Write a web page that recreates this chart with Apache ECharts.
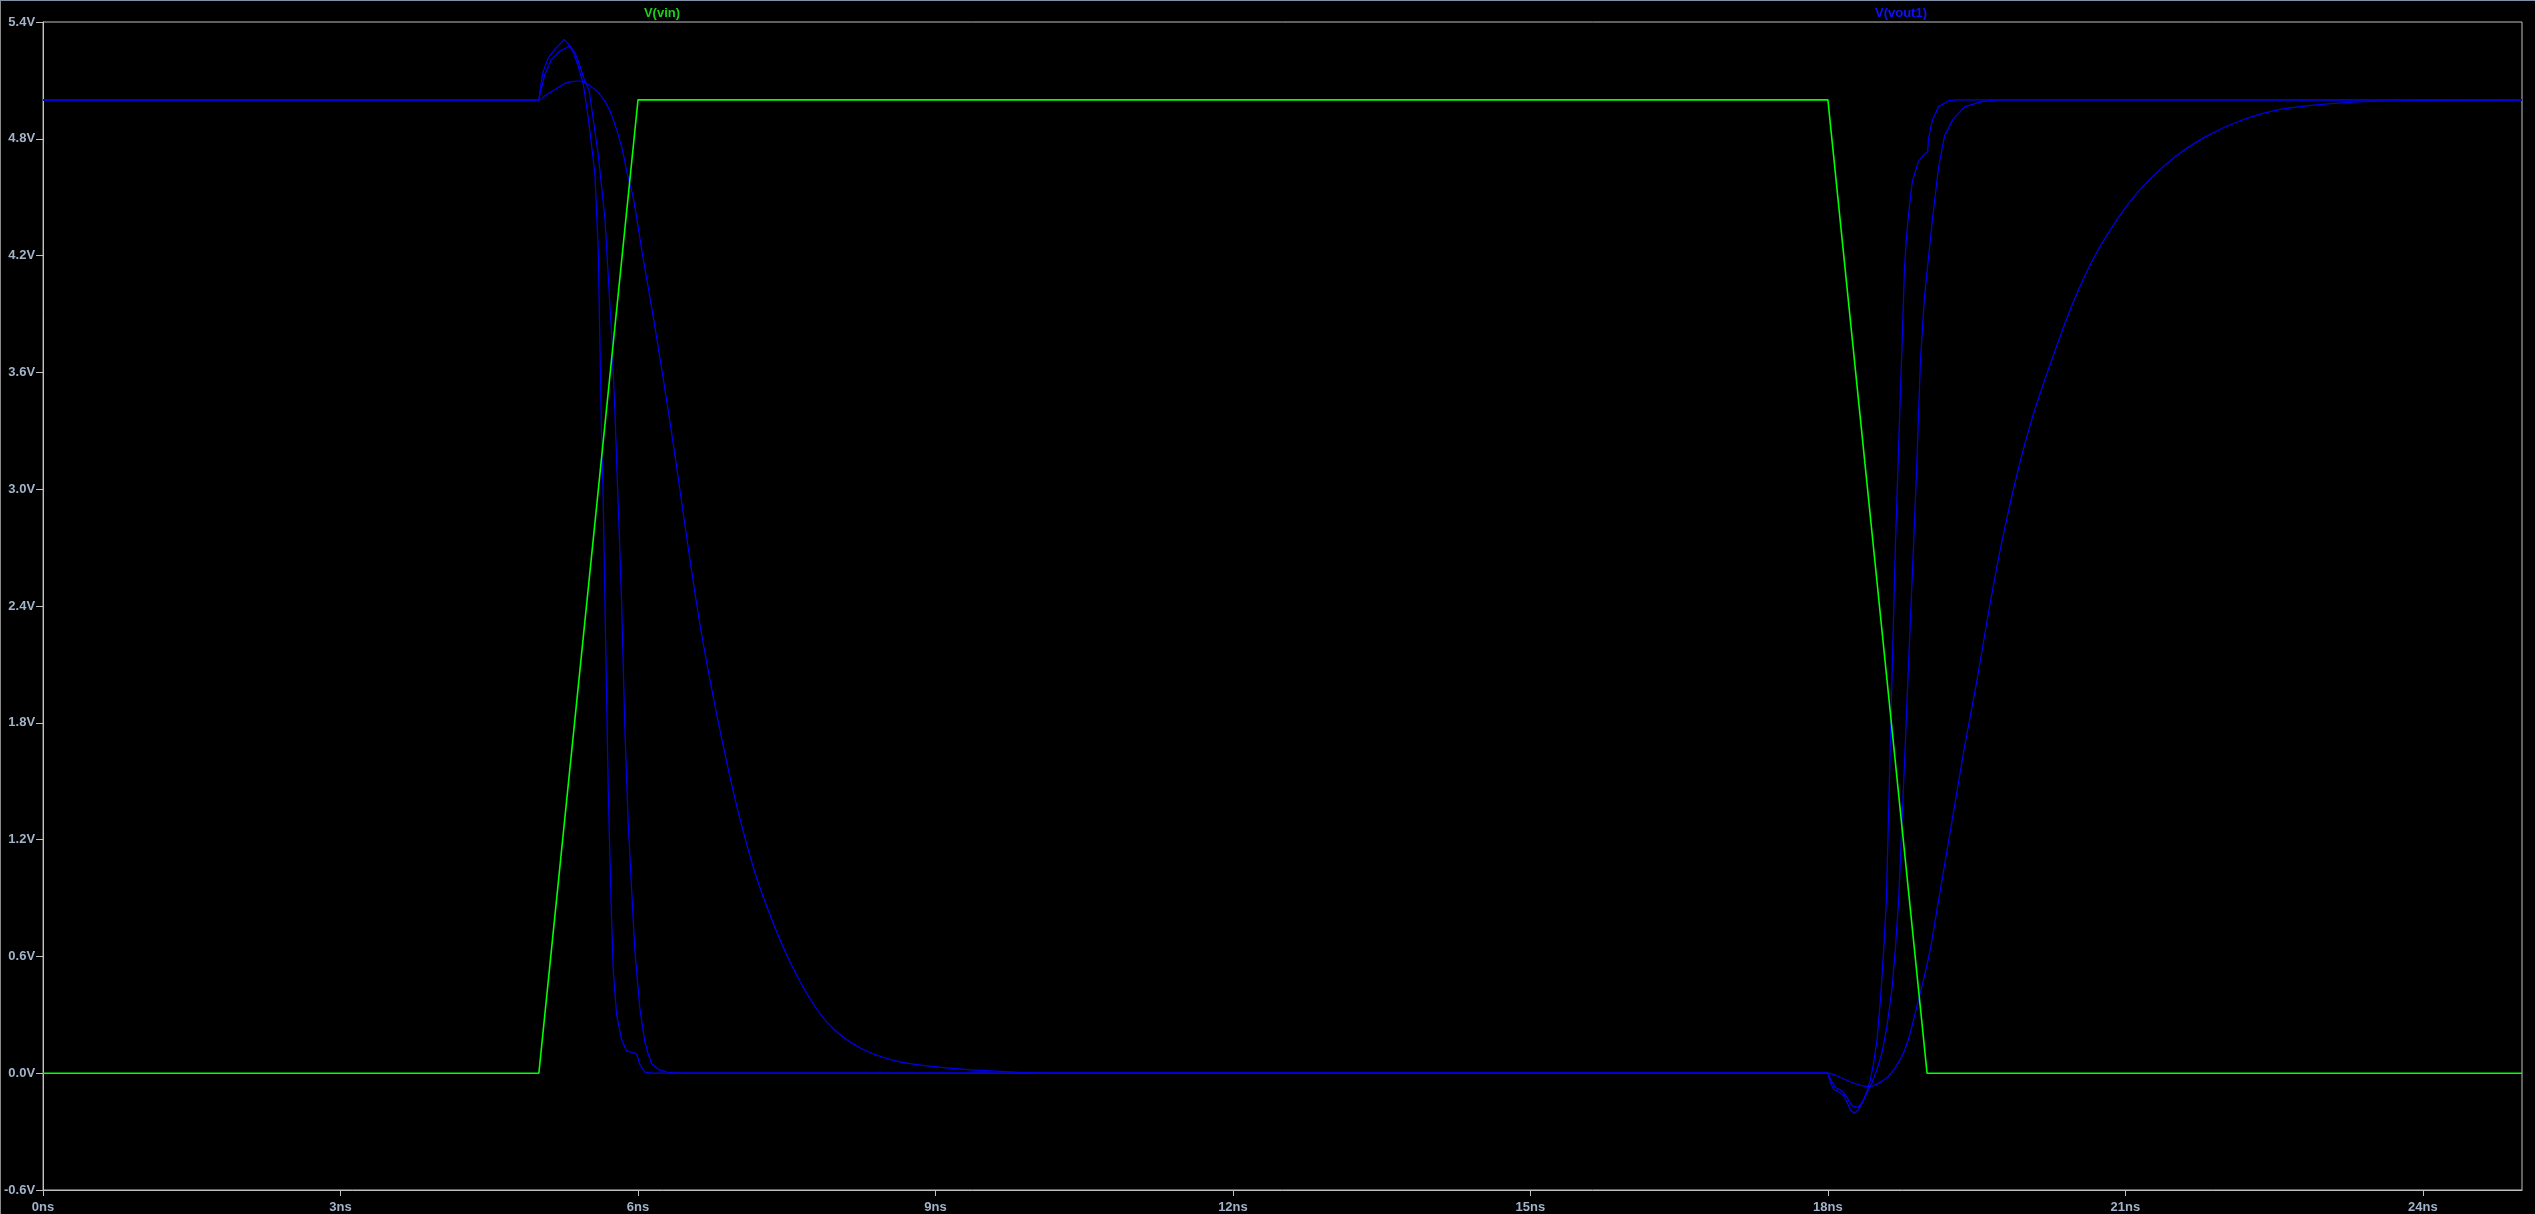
<!DOCTYPE html>
<html>
<head>
<meta charset="utf-8">
<title>V(vin) / V(vout1)</title>
<script src="https://cdn.jsdelivr.net/npm/echarts@6/dist/echarts.min.js"></script>
<style>
    html, body { margin: 0; padding: 0; background: #000; }
    #chart {
        width: 2535px;
        height: 1214px;
        box-sizing: border-box;
        border-left: 1px solid #8a8a8a;
        border-top: 1px solid #7f8fa8;
    }
</style>
</head>
<body>
<div id="chart"></div>
<script>
// axis ticks
var xTicks = [0, 3, 6, 9, 12, 15, 18, 21, 24];
var yTicks = [-0.6, 0, 0.6, 1.2, 1.8, 2.4, 3.0, 3.6, 4.2, 4.8, 5.4];

// input pulse, [ns, V]
var vin = [[0, 0], [5, 0], [6, 5], [18, 5], [19, 0], [25, 0]];

// output, three sweep steps, [ns, V]
var vout1A = [
    [0, 5], [5, 5], [5.021, 5.08], [5.045, 5.149], [5.095, 5.217], [5.162, 5.26],
    [5.212, 5.286], [5.256, 5.311], [5.297, 5.289], [5.347, 5.243], [5.397, 5.174],
    [5.448, 5.08], [5.5, 4.9], [5.565, 4.621], [5.599, 4.229], [5.632, 3.28],
    [5.649, 2.953], [5.666, 2.43], [5.683, 1.939], [5.7, 1.449], [5.716, 1.122],
    [5.733, 0.794], [5.75, 0.533], [5.783, 0.304], [5.834, 0.173], [5.884, 0.115],
    [5.985, 0.1], [6.018, 0.045], [6.069, 0.005], [6.15, 0], [18, 0],
    [18.026, -0.048], [18.059, -0.082], [18.11, -0.096], [18.16, -0.116],
    [18.194, -0.15], [18.227, -0.188], [18.268, -0.207], [18.311, -0.185],
    [18.355, -0.142], [18.395, -0.091], [18.429, -0.031], [18.462, 0.055],
    [18.496, 0.174], [18.53, 0.379], [18.563, 0.636], [18.59, 0.892], [18.63, 1.7],
    [18.68, 2.7], [18.731, 3.493], [18.751, 3.791], [18.771, 4.121], [18.791, 4.286],
    [18.811, 4.402], [18.852, 4.584], [18.913, 4.683], [18.974, 4.723], [19.006, 4.732],
    [19.014, 4.798], [19.054, 4.897], [19.115, 4.964], [19.216, 4.996], [19.3, 5], [25, 5]
];
var vout1B = [
    [0, 5], [5, 5], [5.011, 5.029], [5.061, 5.132], [5.128, 5.209], [5.212, 5.251],
    [5.313, 5.277], [5.364, 5.243], [5.414, 5.174], [5.464, 5.097], [5.508, 5.046],
    [5.599, 4.719], [5.666, 4.392], [5.733, 3.804], [5.766, 3.411], [5.8, 2.921],
    [5.834, 2.43], [5.867, 1.775], [5.901, 1.285], [5.934, 0.958], [5.968, 0.631],
    [6.018, 0.336], [6.069, 0.16], [6.103, 0.1], [6.136, 0.05], [6.204, 0.02],
    [6.3, 0.005], [6.4, 0], [18, 0],
    [18.026, -0.031], [18.076, -0.073], [18.143, -0.091], [18.194, -0.125],
    [18.244, -0.168], [18.301, -0.176], [18.345, -0.15], [18.395, -0.099],
    [18.445, -0.048], [18.496, 0.021], [18.546, 0.106], [18.596, 0.243],
    [18.646, 0.431], [18.68, 0.636], [18.714, 0.892], [18.771, 1.577], [18.811, 2.072],
    [18.852, 2.568], [18.892, 3.064], [18.933, 3.658], [18.974, 3.989], [19.014, 4.187],
    [19.054, 4.385], [19.115, 4.65], [19.176, 4.815], [19.257, 4.897], [19.378, 4.964],
    [19.54, 4.99], [19.7, 5], [25, 5]
];
var vout1C = [
    [0, 5], [5, 5], [5.061, 5.021], [5.128, 5.043], [5.196, 5.063], [5.246, 5.08],
    [5.313, 5.092], [5.397, 5.097], [5.448, 5.094], [5.515, 5.072], [5.599, 5.037],
    [5.683, 4.978], [5.75, 4.9], [5.834, 4.76], [5.901, 4.6], [5.951, 4.5],
    [6.052, 4.185], [6.136, 3.939], [6.254, 3.57], [6.371, 3.18], [6.472, 2.82],
    [6.607, 2.36], [6.741, 1.98], [6.875, 1.645], [7.009, 1.345], [7.177, 1.035],
    [7.345, 0.795], [7.547, 0.557], [7.781, 0.345], [7.983, 0.222], [8.252, 0.127],
    [8.587, 0.065], [8.99, 0.034], [9.494, 0.013], [10.17, 0], [18, 0],
    [18.126, -0.022], [18.227, -0.044], [18.327, -0.062], [18.411, -0.068],
    [18.495, -0.056], [18.596, -0.022], [18.68, 0.029], [18.764, 0.106],
    [18.831, 0.209], [18.898, 0.345], [18.965, 0.482], [19.032, 0.636], [19.1, 0.84],
    [19.257, 1.312], [19.378, 1.676], [19.499, 2.006], [19.621, 2.37], [19.742, 2.7],
    [19.904, 3.07], [20.066, 3.375], [20.268, 3.68], [20.471, 3.956], [20.672, 4.18],
    [20.916, 4.385], [21.16, 4.545], [21.483, 4.7], [21.806, 4.81], [22.171, 4.895],
    [22.576, 4.952], [23.183, 4.985], [23.993, 4.997], [25, 5]
];

var labelColor = "#a3b3c9";
var frameColor = "#c0c0c0";
var font = "'Liberation Sans', Arial, sans-serif";

var myChart = echarts.init(document.getElementById("chart"));

function trace(name, data, color, width, z, smooth) {
    return {
        name: name,
        type: "line",
        data: data,
        showSymbol: false,
        symbol: "none",
        smooth: smooth,
        z: z,
        lineStyle: { color: color, width: width },
        emphasis: { disabled: true }
    };
}

var option = {
    backgroundColor: "#000",
    animation: false,
    grid: {
        left: 41,
        top: 21,
        right: 13,
        bottom: 23,
        show: true,
        borderColor: frameColor,
        borderWidth: 1,
        backgroundColor: "#000"
    },
    graphic: [
        {
            type: "text",
            x: 661, y: 12,
            style: {
                text: "V(vin)",
                fill: "#1ed01e",
                font: "bold 13px " + font,
                align: "center",
                verticalAlign: "middle"
            }
        },
        {
            type: "text",
            x: 1900, y: 12,
            style: {
                text: "V(vout1)",
                fill: "#1010ff",
                font: "bold 13px " + font,
                align: "center",
                verticalAlign: "middle"
            }
        }
    ],
    xAxis: {
        type: "value",
        min: 0,
        max: 25,
        axisLine: { show: true, onZero: false, lineStyle: { color: frameColor, width: 1 } },
        axisTick: {
            show: true,
            length: 6,
            customValues: xTicks,
            lineStyle: { color: frameColor }
        },
        splitLine: { show: false },
        axisLabel: {
            customValues: xTicks,
            margin: 11,
            color: labelColor,
            fontFamily: font,
            fontWeight: "bold",
            fontSize: 13,
            formatter: function(v) {
                return v + "ns";
            }
        }
    },
    yAxis: {
        type: "value",
        min: -0.6,
        max: 5.4,
        axisLine: { show: true, onZero: false, lineStyle: { color: frameColor, width: 1 } },
        axisTick: {
            show: true,
            length: 7,
            customValues: yTicks,
            lineStyle: { color: frameColor }
        },
        splitLine: { show: false },
        axisLabel: {
            customValues: yTicks,
            margin: 8,
            color: labelColor,
            fontFamily: font,
            fontWeight: "bold",
            fontSize: 13,
            formatter: function(v) {
                return v.toFixed(1) + "V";
            }
        }
    },
    series: [
        trace("V(vout1)", vout1C, "#0000f0", 1.2, 2, 0.3),
        trace("V(vout1)", vout1B, "#0000f0", 1.2, 2, false),
        trace("V(vout1)", vout1A, "#0000f0", 1.2, 2, false),
        trace("V(vin)", vin, "#00ff00", 1.6, 3, false)
    ]
};
myChart.setOption(option);
</script>
</body>
</html>
